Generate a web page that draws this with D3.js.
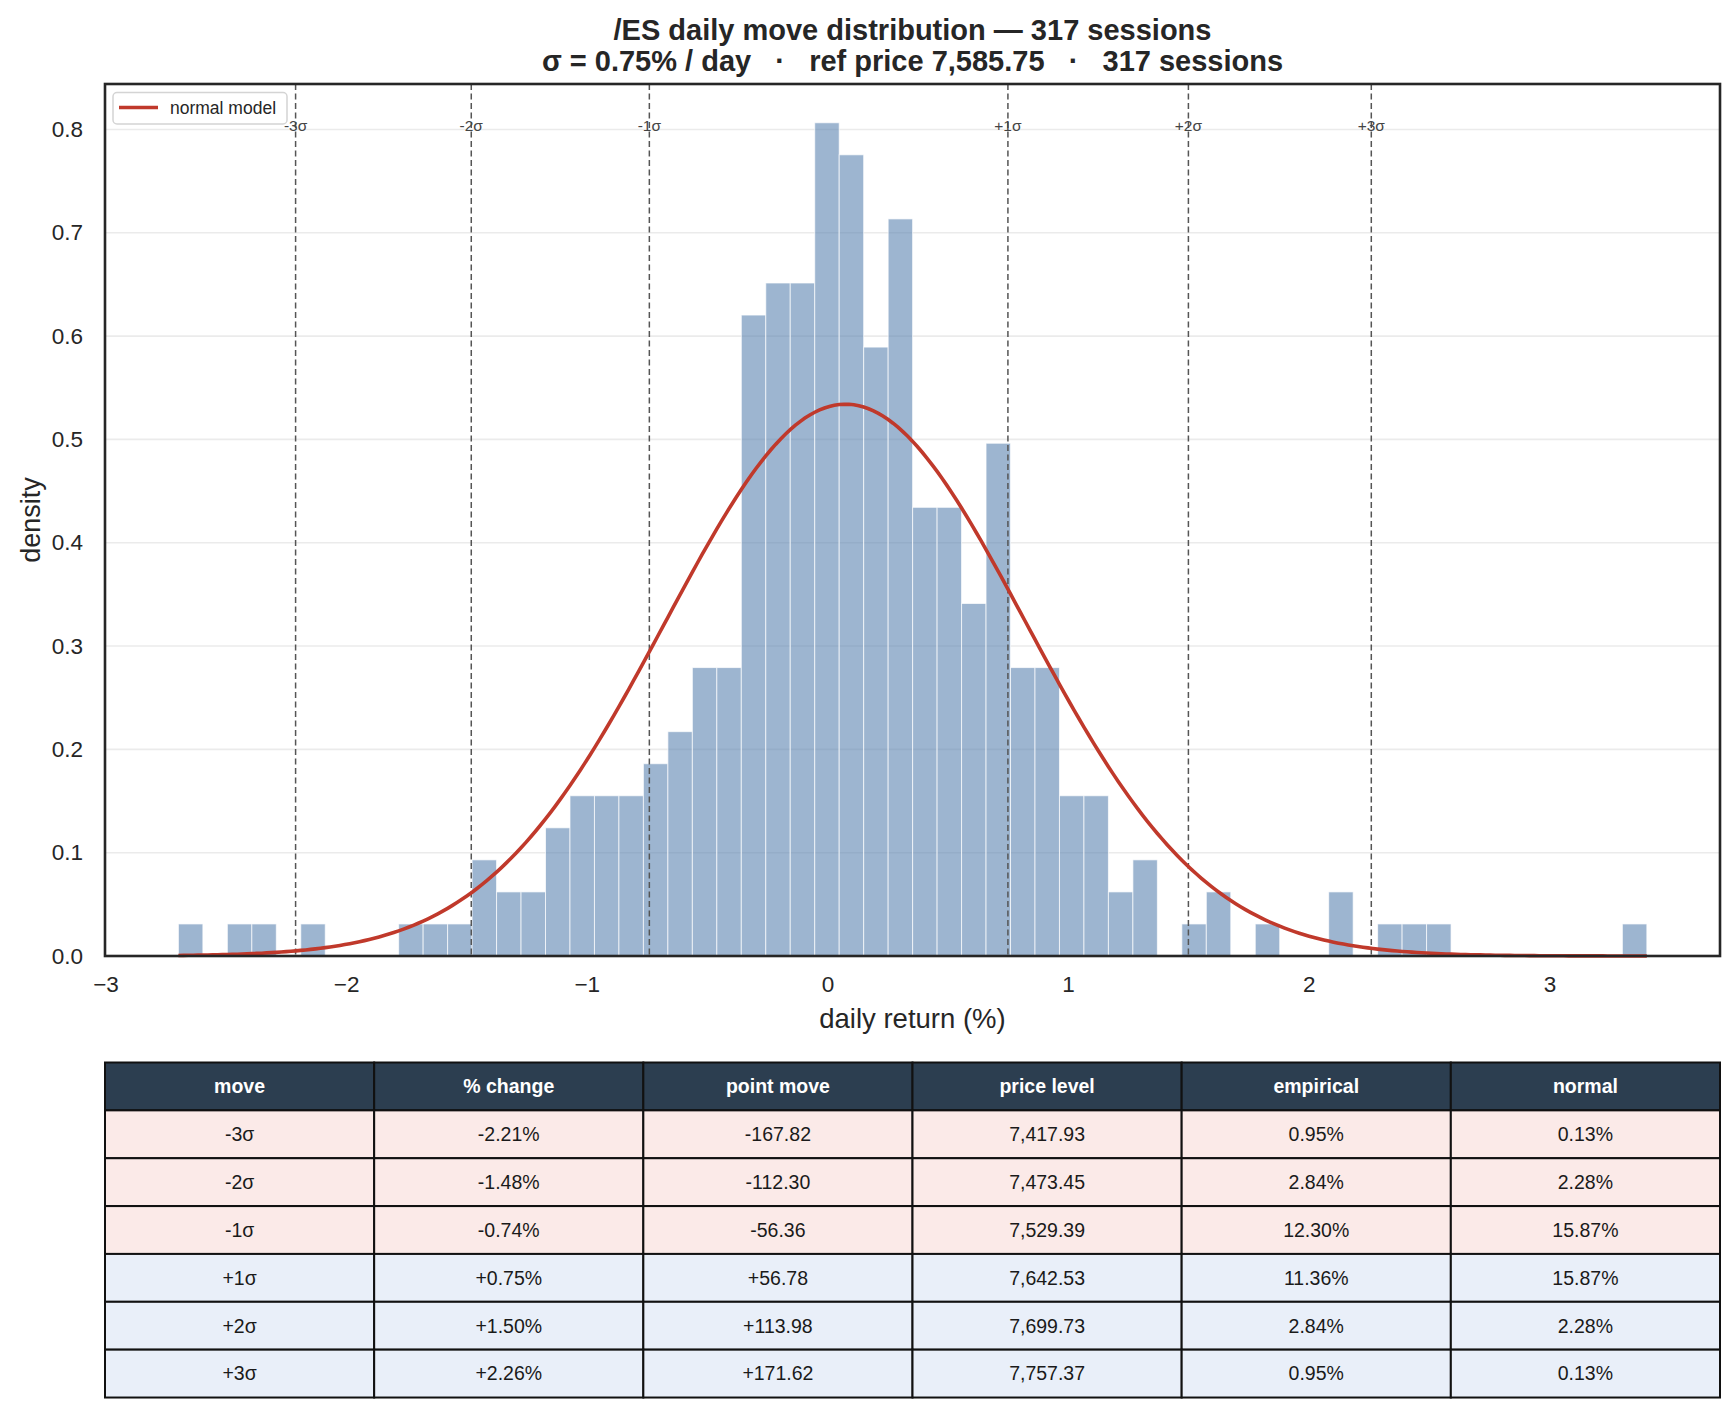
<!DOCTYPE html>
<html>
<head>
<meta charset="utf-8">
<script src="https://cdn.jsdelivr.net/npm/d3@7"></script>
<style>
  body { margin: 0; background: #fff; }
  svg { display: block; font-family: "Liberation Sans", Arial, sans-serif; }
</style>
</head>
<body>
<script>
"use strict";

// histogram: 60 bins of daily returns (%), counts per bin
const binStart = -2.697
const binWidth = 0.1017
const sessions = 317
const binCounts = [
    1, 0, 1, 1, 0, 1, 0, 0, 0, 1,
    1, 1, 3, 2, 2, 4, 5, 5, 5, 6,
    7, 9, 9, 20, 21, 21, 26, 25, 19, 23,
    14, 14, 11, 16, 9, 9, 5, 5, 2, 3,
    0, 1, 2, 0, 1, 0, 0, 2, 0, 1,
    1, 1, 0, 0, 0, 0, 0, 0, 0, 1
]

// normal model parameters (%)
const modelMean = 0.075
const modelSigma = 0.747

// sigma marker lines
const sigmaValues = [-2.21, -1.48, -0.74, 0.75, 1.50, 2.26]
const sigmaLabels = ["-3σ", "-2σ", "-1σ", "+1σ", "+2σ", "+3σ"]

// axes ticks
const xTicks = [-3, -2, -1, 0, 1, 2, 3]
const yTicks = [0, 0.1, 0.2, 0.3, 0.4, 0.5, 0.6, 0.7, 0.8]

// table
const tableHeader = ["move", "% change", "point move", "price level", "empirical", "normal"]
const colMove = ["-3σ", "-2σ", "-1σ", "+1σ", "+2σ", "+3σ"]
const colPct = ["-2.21%", "-1.48%", "-0.74%", "+0.75%", "+1.50%", "+2.26%"]
const colPoints = ["-167.82", "-112.30", "-56.36", "+56.78", "+113.98", "+171.62"]
const colPrice = ["7,417.93", "7,473.45", "7,529.39", "7,642.53", "7,699.73", "7,757.37"]
const colEmpirical = ["0.95%", "2.84%", "12.30%", "11.36%", "2.84%", "0.95%"]
const colNormal = ["0.13%", "2.28%", "15.87%", "15.87%", "2.28%", "0.13%"]

const titleLine1 = "/ES daily move distribution — 317 sessions"
const titleLine2 = "σ = 0.75% / day   ·   ref price 7,585.75   ·   317 sessions"

const dims = {
    width: 1735,
    height: 1414,
    left: 105,
    right: 1720,
    top: 84,
    bottom: 956,
    tableTop: 1062.5,
    rowHeight: 47.86
}

const ink = "#262626"

const svg = d3.select("body").append("svg")
    .attr("width", dims.width)
    .attr("height", dims.height)

const x = d3.scaleLinear()
    .domain([-3.002, 3.709])
    .range([dims.left, dims.right])

const y = d3.scaleLinear()
    .domain([0, 0.844])
    .range([dims.bottom, dims.top])

drawGrid()
drawBars()
drawSigmaLines()
drawCurve()
drawFrame()
drawAxes()
drawLegend()
drawTitle()
drawTable()

function drawGrid() {
    svg.append("g")
        .selectAll("line")
        .data(yTicks)
        .enter()
        .append("line")
        .attr("x1", dims.left)
        .attr("x2", dims.right)
        .attr("y1", d => y(d))
        .attr("y2", d => y(d))
        .attr("stroke", "#ebebeb")
        .attr("stroke-width", 1.6)
}

function drawBars() {
    const bins = binCounts.map((c, i) => ({
        x0: binStart + i * binWidth,
        x1: binStart + (i + 1) * binWidth,
        density: c / (sessions * binWidth)
    })).filter(b => b.density > 0)

    svg.append("g")
        .selectAll("rect")
        .data(bins)
        .enter()
        .append("rect")
        .attr("x", d => x(d.x0))
        .attr("width", d => x(d.x1) - x(d.x0))
        .attr("y", d => y(d.density))
        .attr("height", d => y(0) - y(d.density))
        .attr("fill", "#5b84b1")
        .attr("fill-opacity", 0.6)
        .attr("stroke", "#ffffff")
        .attr("stroke-opacity", 0.7)
        .attr("stroke-width", 1)
}

function drawSigmaLines() {
    const g = svg.append("g")
    g.selectAll("line")
        .data(sigmaValues)
        .enter()
        .append("line")
        .attr("x1", d => x(d))
        .attr("x2", d => x(d))
        .attr("y1", dims.top)
        .attr("y2", dims.bottom)
        .attr("stroke", "#555")
        .attr("stroke-width", 1.5)
        .attr("stroke-dasharray", "6,3.5")

    g.selectAll("text")
        .data(sigmaValues)
        .enter()
        .append("text")
        .attr("x", d => x(d))
        .attr("y", 131)
        .attr("text-anchor", "middle")
        .attr("font-size", 15.5)
        .attr("fill", "#444")
        .text((d, i) => sigmaLabels[i])
}

function drawCurve() {
    // normal pdf over the sample range
    const lo = binStart
    const hi = binStart + binCounts.length * binWidth
    const pts = d3.range(0, 301).map(i => {
        const v = lo + (hi - lo) * i / 300
        const z = (v - modelMean) / modelSigma
        return [v, Math.exp(-0.5 * z * z) / (modelSigma * Math.sqrt(2 * Math.PI))]
    })
    const line = d3.line()
        .x(d => x(d[0]))
        .y(d => y(d[1]))
    svg.append("path")
        .datum(pts)
        .attr("d", line)
        .attr("fill", "none")
        .attr("stroke", "#c0392b")
        .attr("stroke-width", 3.6)
}

function drawFrame() {
    svg.append("rect")
        .attr("x", dims.left)
        .attr("y", dims.top)
        .attr("width", dims.right - dims.left)
        .attr("height", dims.bottom - dims.top)
        .attr("fill", "none")
        .attr("stroke", ink)
        .attr("stroke-width", 2.6)
}

function drawAxes() {
    // these are not HTML elements. They're functions!
    let xAxis = d3.axisBottom(x)
        .tickValues(xTicks)
        .tickFormat(d3.format("d"))
        .tickSize(0)
        .tickPadding(20)
    let yAxis = d3.axisLeft(y)
        .tickValues(yTicks)
        .tickFormat(d3.format(".1f"))
        .tickSize(0)
        .tickPadding(22)

    const gx = svg.append("g")
        .attr("transform", `translate(0,${dims.bottom})`)
        .call(xAxis)
    const gy = svg.append("g")
        .attr("transform", `translate(${dims.left},0)`)
        .call(yAxis)

    for (const g of [gx, gy]) {
        g.select(".domain").remove()
        g.selectAll("text")
            .attr("font-size", 22.5)
            .attr("font-family", "Liberation Sans, Arial, sans-serif")
            .attr("fill", ink)
    }

    svg.append("text")
        .attr("x", (dims.left + dims.right) / 2)
        .attr("y", 1028)
        .attr("text-anchor", "middle")
        .attr("font-size", 27.5)
        .attr("fill", ink)
        .text("daily return (%)")

    svg.append("text")
        .attr("transform", `translate(40,${(dims.top + dims.bottom) / 2}) rotate(-90)`)
        .attr("text-anchor", "middle")
        .attr("font-size", 27)
        .attr("fill", ink)
        .text("density")
}

function drawLegend() {
    const g = svg.append("g")
    g.append("rect")
        .attr("x", 113)
        .attr("y", 92.5)
        .attr("width", 174)
        .attr("height", 31.5)
        .attr("rx", 4)
        .attr("fill", "#fff")
        .attr("fill-opacity", 0.8)
        .attr("stroke", "#d4d4d4")
        .attr("stroke-width", 1.5)
    g.append("line")
        .attr("x1", 119)
        .attr("x2", 158)
        .attr("y1", 107.5)
        .attr("y2", 107.5)
        .attr("stroke", "#c0392b")
        .attr("stroke-width", 3.6)
    g.append("text")
        .attr("x", 170)
        .attr("y", 113.5)
        .attr("font-size", 17.5)
        .attr("fill", ink)
        .text("normal model")
}

function drawTitle() {
    const cx = (dims.left + dims.right) / 2
    svg.append("text")
        .attr("x", cx)
        .attr("y", 40)
        .attr("text-anchor", "middle")
        .attr("font-size", 29)
        .attr("font-weight", "bold")
        .attr("fill", ink)
        .text(titleLine1)
    svg.append("text")
        .attr("x", cx)
        .attr("y", 71)
        .attr("text-anchor", "middle")
        .attr("font-size", 29)
        .attr("font-weight", "bold")
        .attr("fill", ink)
        .style("white-space", "pre")
        .text(titleLine2)
}

function drawTable() {
    const columns = [colMove, colPct, colPoints, colPrice, colEmpirical, colNormal]
    const colScale = d3.scaleBand()
        .domain(d3.range(tableHeader.length))
        .range([dims.left, dims.right])
    const rowScale = d3.scaleBand()
        .domain(d3.range(colMove.length + 1))
        .range([dims.tableTop, dims.tableTop + dims.rowHeight * (colMove.length + 1)])

    const cells = []
    tableHeader.forEach((h, c) => cells.push({ r: 0, c: c, text: h }))
    colMove.forEach((m, r) => {
        columns.forEach((col, c) => cells.push({ r: r + 1, c: c, text: col[r] }))
    })

    const fillFor = d => d.r === 0 ? "#2c3e50" : (d.r <= 3 ? "#fbeae8" : "#e9eff9")

    const g = svg.append("g")
    g.selectAll("rect")
        .data(cells)
        .enter()
        .append("rect")
        .attr("x", d => colScale(d.c))
        .attr("y", d => rowScale(d.r))
        .attr("width", colScale.bandwidth())
        .attr("height", rowScale.bandwidth())
        .attr("fill", fillFor)
        .attr("stroke", "#111")
        .attr("stroke-width", 2)

    g.selectAll("text")
        .data(cells)
        .enter()
        .append("text")
        .attr("x", d => colScale(d.c) + colScale.bandwidth() / 2)
        .attr("y", d => rowScale(d.r) + rowScale.bandwidth() / 2)
        .attr("dy", "0.35em")
        .attr("text-anchor", "middle")
        .attr("font-size", 19.5)
        .attr("font-weight", d => d.r === 0 ? "bold" : "normal")
        .attr("fill", d => d.r === 0 ? "#ffffff" : "#1a1a1a")
        .text(d => d.text)
}
</script>
</body>
</html>
